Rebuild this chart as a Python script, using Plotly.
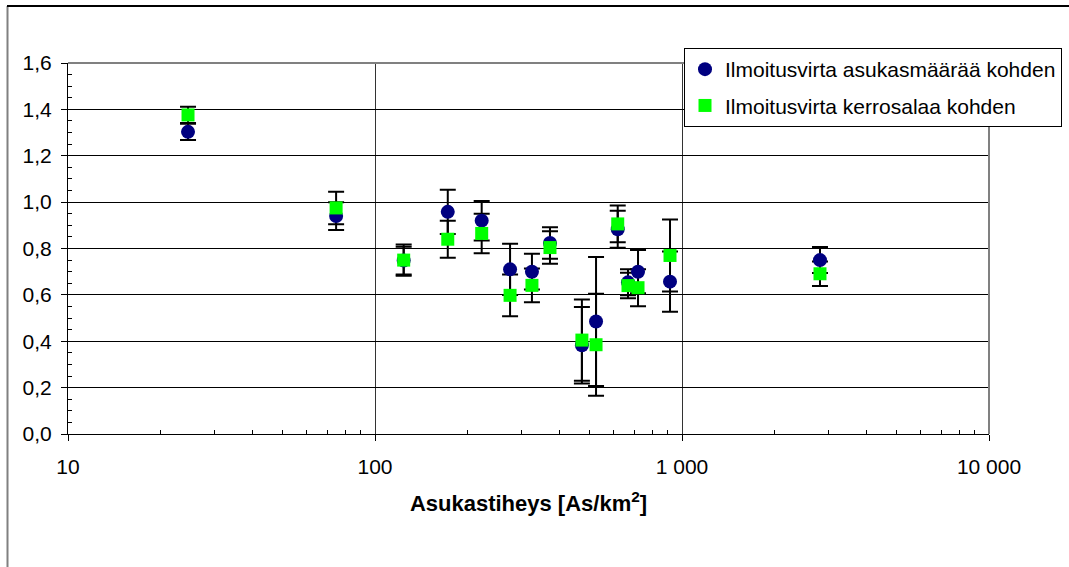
import plotly.graph_objects as go

# ---- data ----
density = [24.6, 74.7, 124, 172.6, 222.6, 275.4, 324.5, 371.5, 472, 524.8, 617.5, 666.9, 719, 914, 2815]
per_resident = [1.303, 0.94, 0.748, 0.958, 0.92, 0.71, 0.70, 0.824, 0.383, 0.485, 0.883, 0.654, 0.70, 0.657, 0.75]
per_resident_err = [0.035, 0.06, 0.06, 0.095, 0.085, 0.11, 0.077, 0.068, 0.165, 0.278, 0.08, 0.056, 0.093, 0.13, 0.056]
per_floor = [1.376, 0.975, 0.75, 0.84, 0.865, 0.598, 0.641, 0.804, 0.405, 0.385, 0.906, 0.64, 0.631, 0.77, 0.691]
per_floor_err = [0.035, 0.07, 0.067, 0.08, 0.085, 0.09, 0.073, 0.07, 0.175, 0.22, 0.079, 0.055, 0.08, 0.155, 0.053]

name_resident = "Ilmoitusvirta asukasmäärää kohden"
name_floor = "Ilmoitusvirta kerrosalaa kohden"
x_title = "Asukastiheys [As/km<sup>2</sup>]"
x_major = [10, 100, 1000, 10000]
x_minor = [m * d for d in (10, 100, 1000) for m in range(2, 10)]

NAVY = "#000080"
GREEN = "#00FF00"
FONT = "Liberation Sans, Arial, sans-serif"

fig = go.Figure()

# error bars first (drawn beneath all markers)
for vals, errs in ((per_resident, per_resident_err), (per_floor, per_floor_err)):
    fig.add_trace(go.Scatter(
        x=density, y=vals, mode="markers",
        marker=dict(size=1, color="rgba(0,0,0,0)"),
        error_y=dict(type="data", array=errs, symmetric=True,
                     color="black", thickness=2, width=8),
        showlegend=False, hoverinfo="skip"))

fig.add_trace(go.Scatter(
    x=density, y=per_resident, mode="markers", name=name_resident,
    legendgroup="a",
    marker=dict(symbol="circle", size=14, color=NAVY, line=dict(width=0))))
fig.add_trace(go.Scatter(
    x=density, y=per_floor, mode="markers", name=name_floor,
    legendgroup="b",
    marker=dict(symbol="square", size=13, color=GREEN, line=dict(width=0))))

L, R, T, B = 68, 80, 63, 133
W, H = 1069, 567
pw, ph = W - L - R, H - T - B

def px2x(px):
    return (px - L) / pw

def py2y(py):
    return (H - B - py) / ph

fig.update_layout(
    width=W, height=H, autosize=False,
    margin=dict(l=L, r=R, t=T, b=B, pad=0, autoexpand=False),
    paper_bgcolor="white", plot_bgcolor="white",
    separators=", ",
    font=dict(family=FONT, size=21, color="black"),
    showlegend=True,
    legend=dict(x=px2x(684), y=py2y(48), xanchor="left", yanchor="top",
                bgcolor="white", bordercolor="black", borderwidth=1,
                font=dict(family=FONT, size=21, color="black"),
                tracegroupgap=6, traceorder="grouped"),
    xaxis=dict(
        type="log", range=[1, 4], automargin=False,
        tickvals=x_major, tickformat=",d",
        ticks="outside", ticklen=6, tickcolor="black", tickwidth=1,
        showline=True, linecolor="black", linewidth=1,
        showgrid=True, gridcolor="#333333", gridwidth=1,
        zeroline=False, ticklabelstandoff=8,
        tickfont=dict(family=FONT, size=21, color="black"),
        minor=dict(tickvals=x_minor, ticks="inside", ticklen=4,
                   tickcolor="black", showgrid=False),
        title=dict(text=x_title, standoff=18,
                   font=dict(family=FONT, size=22, color="black", weight="bold")),
    ),
    yaxis=dict(
        range=[0, 1.6], dtick=0.2, tick0=0, tickformat=".1f", automargin=False,
        ticks="outside", ticklen=6, tickcolor="black", tickwidth=1,
        showline=True, linecolor="black", linewidth=1,
        showgrid=True, gridcolor="black", gridwidth=1,
        zeroline=False, ticklabelstandoff=5,
        tickfont=dict(family=FONT, size=21, color="black"),
        minor=dict(dtick=0.05, ticks="inside", ticklen=4,
                   tickcolor="black", showgrid=False),
    ),
    shapes=[
        # plot-area top and right borders (grey)
        dict(type="line", xref="paper", yref="paper", x0=0, x1=1, y0=1, y1=1,
             line=dict(color="#808080", width=2)),
        dict(type="line", xref="paper", yref="paper", x0=1, x1=1, y0=0, y1=1,
             line=dict(color="#808080", width=2)),
        # outer chart frame
        dict(type="line", xref="paper", yref="paper",
             x0=px2x(7.5), x1=px2x(7.5), y0=py2y(6), y1=py2y(567),
             line=dict(color="#808080", width=2)),
        dict(type="line", xref="paper", yref="paper",
             x0=px2x(7), x1=px2x(1069), y0=py2y(6), y1=py2y(6),
             line=dict(color="black", width=2)),
    ],
)

fig.write_html("out.html")
